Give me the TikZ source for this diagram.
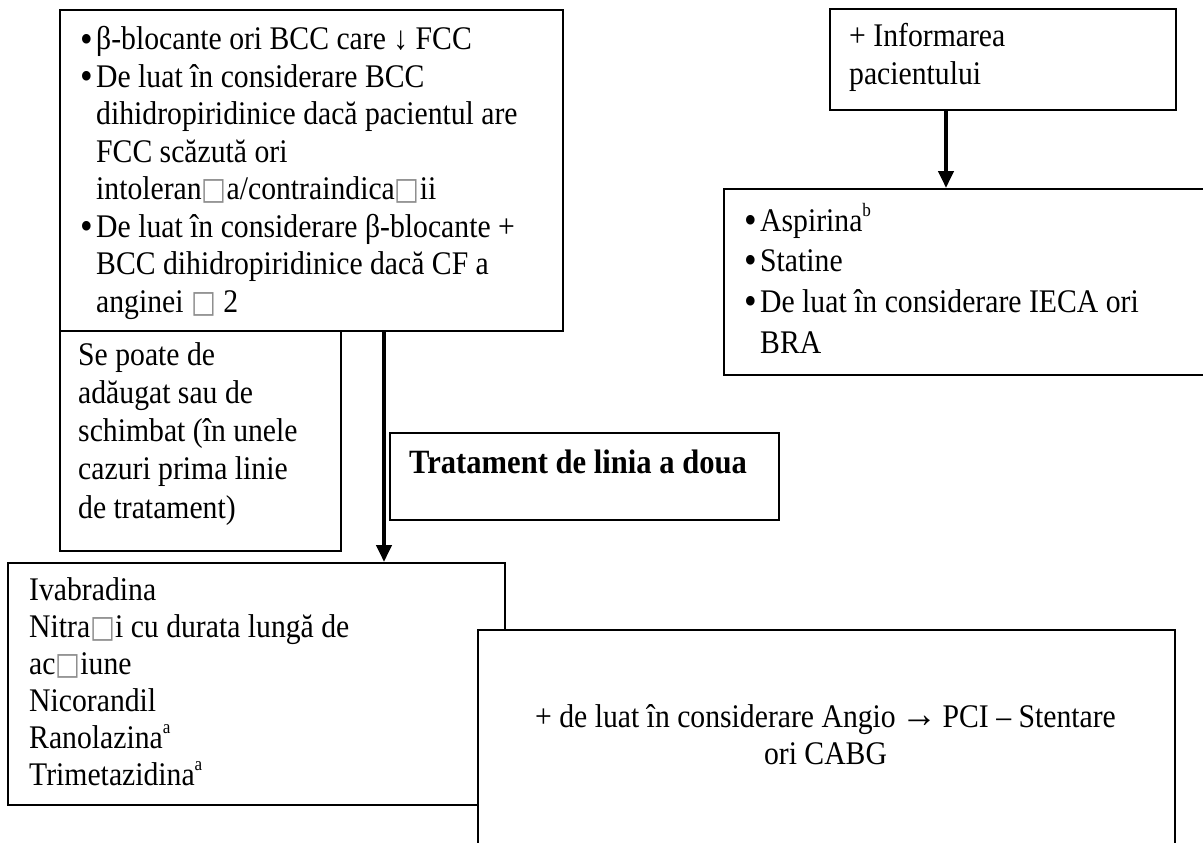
\documentclass[tikz,border=0pt]{standalone}
\usepackage{fontspec}
\setmainfont{Liberation Serif}[FakeStretch=0.9]
\newfontfamily\boxfont{DejaVu Sans}[FakeStretch=0.85]
\usetikzlibrary{arrows.meta,calc}

% placeholder glyph for characters the source font could not show
\newcommand\miss{{\boxfont\color{black!45}\fontsize{31}{31}\selectfont □}}
% right arrow with a longer shaft
\newcommand\rarr{\kern-2pt{\fontsize{40}{40}\selectfont →}\kern-2pt}
% small raised footnote letter
\newcommand\sups[1]{\raisebox{0.45em}{\fontsize{19}{19}\selectfont #1}}
% bullet item start and continuation indent
\newcommand\blt{\makebox[16pt][l]{\raisebox{-2pt}{\fontsize{40}{40}\selectfont •}}}
\newcommand\ind{\hspace*{16pt}}
% stacked lines, baseline of the node = baseline of the first line
\newcommand\lines[1]{\begin{tabular}[t]{@{}l@{}}#1\end{tabular}}
\newcommand\clines[1]{\begin{tabular}[t]{@{}c@{}}#1\end{tabular}}

\begin{document}
\begin{tikzpicture}[x=1pt,y=-1pt,
  box/.style={draw, line width=1.9pt, inner sep=0pt, anchor=north west, fill=white},
  txt/.style={anchor=base west, inner sep=0pt, font=\fontsize{33}{37.5}\selectfont},
  arr/.style={line width=4pt, -{Triangle[width=15pt,length=17pt]}}]

\useasboundingbox (0,0) rectangle (1203,843);
\clip (0,0) rectangle (1203,843);
\fill[white] (0,0) rectangle (1203,843);

% boxes
\node[box, minimum width=503pt, minimum height=321pt] (b1) at (59,9) {};
\node[box, minimum width=281pt, minimum height=220pt] (sep) at (59,330) {};
\node[box, minimum width=389pt, minimum height=87pt] (trt) at (389,432) {};
\node[box, minimum width=346pt, minimum height=101pt] (info) at (829,8) {};
\node[box, minimum width=500pt, minimum height=186pt] (asp) at (723,188) {};
\node[box, minimum width=497pt, minimum height=242pt] (ivab) at (7,562) {};
\node[box, minimum width=697pt, minimum height=250pt] (cabg) at (477,629) {};

% connectors
\coordinate (c1) at (384,0);
\coordinate (c2) at (946,0);
\draw[arr] (b1.south -| c1) -- (ivab.north -| c1);
\draw[arr] (info.south -| c2) -- (asp.north -| c2);

% texts
\node[txt] (t1) at (80,50) {\lines{%
  \blt β-blocante ori BCC care ↓ FCC\\
  \blt De luat în considerare BCC\\
  \ind dihidropiridinice dacă pacientul are\\
  \ind FCC scăzută ori\\
  \ind intoleran\miss a/contraindica\miss ii\\
  \blt De luat în considerare β-blocante +\\
  \ind BCC dihidropiridinice dacă CF a\\
  \ind anginei \miss\ 2}};

\node[txt] (t2) at (849,47) {\lines{+ Informarea\\ pacientului}};

\node[txt, font=\fontsize{33}{40.8}\selectfont] (t3) at (744,231) {\lines{%
  \blt Aspirina\sups{b}\\
  \blt Statine\\
  \blt De luat în considerare IECA ori\\
  \ind BRA}};

\node[txt, font=\fontsize{33}{38.3}\selectfont] (t4) at (78,365) {\lines{%
  Se poate de\\ adăugat sau de\\ schimbat (în unele\\ cazuri prima linie\\ de tratament)}};

\node[txt, font=\fontsize{34}{37}\selectfont\bfseries] (t5) at (409,473) {Tratament de linia a doua};

\node[txt, font=\fontsize{33}{37}\selectfont] (t6) at (29,600) {\lines{%
  Ivabradina\\
  Nitra\miss i cu durata lungă de\\
  ac\miss iune\\
  Nicorandil\\
  Ranolazina\sups{a}\\
  Trimetazidina\sups{a}}};

\node[txt, anchor=base, font=\fontsize{33}{37}\selectfont] (t7) at (825.5,727) {\clines{%
  + de luat în considerare Angio \rarr\ PCI – Stentare\\ ori CABG}};
\end{tikzpicture}
\end{document}
